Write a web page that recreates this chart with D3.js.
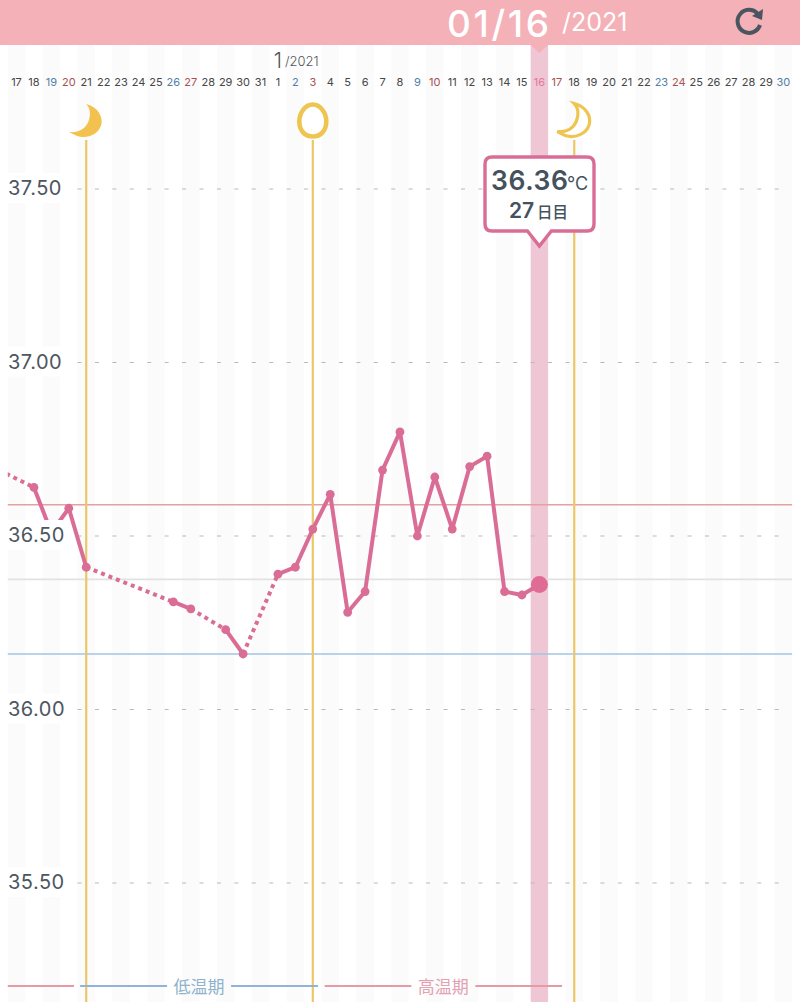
<!DOCTYPE html>
<html><head><meta charset="utf-8">
<script src="https://cdnjs.cloudflare.com/ajax/libs/d3/7.8.5/d3.min.js"></script>
<style>html,body{margin:0;padding:0;background:#fff}svg{display:block}</style></head>
<body><svg id="c" width="800" height="1002"></svg>
<script>
const dayLabels=[17,18,19,20,21,22,23,24,25,26,27,28,29,30,31,1,2,3,4,5,6,7,8,9,10,11,12,13,14,15,16,17,18,19,20,21,22,23,24,25,26,27,28,29,30];
const saturdays=[2,9,16,23,37,44];
const sundays=[3,10,17,24,31,38];
const dayIndex=[-1,1,2,3,4,9,10,12,13,15,16,17,18,19,20,21,22,23,24,25,26,27,28,29,30];
const temps=[36.69,36.64,36.51,36.58,36.41,36.31,36.29,36.23,36.16,36.39,36.41,36.52,36.62,36.28,36.34,36.69,36.80,36.50,36.67,36.52,36.70,36.73,36.34,36.33,36.36];
const yTicks=[37.5,37,36.5,36,35.5];
const refLines=[{v:36.59,c:"#e6a09f"},{v:36.375,c:"#e2e2e2"},{v:36.16,c:"#a2c4e0"}];
const moonDays=[4,17,32];
const selectedDay=30;
const phases=[{a:-0.5,b:3.3,c:"#e59aa6"},{a:3.65,b:17.3,c:"#8fb3da",t:"低温期",tc:"#8fb3cc"},{a:17.68,b:31.3,c:"#e59aa6",t:"高温期",tc:"#e3a1b2"}];
const svg=d3.select("#c");
const x=d3.scaleLinear().domain([0,44]).range([16.5,783.4]);
const y=d3.scaleLinear().domain([35.5,37.5]).range([883,189]);
const step=x(1)-x(0);
const pink="#d96d95",yellow="#ebc76a",latin="Inter,'Noto Sans CJK JP',sans-serif";
const main=svg.append("g");
main.selectAll(".stripe").data(dayLabels.map((d,i)=>i).filter(i=>i%2==0)).join("rect")
 .attr("x",i=>x(i)-step/2).attr("width",step).attr("y",45).attr("height",957).attr("fill","#fbfbfb");
main.append("rect").attr("x",x(selectedDay)-step/2).attr("width",step).attr("y",45).attr("height",957).attr("fill","#efc6d4");
main.selectAll(".g").data(yTicks).join("line").attr("x1",x(0)-step/2).attr("x2",x(44)+step/2)
 .attr("y1",d=>y(d)).attr("y2",d=>y(d)).attr("stroke","#b9b9b9").attr("stroke-width",1).attr("stroke-dasharray",`4 ${step-4}`);
main.selectAll(".r").data(refLines).join("line").attr("x1",x(0)-step/2).attr("x2",x(44)+step/2)
 .attr("y1",d=>y(d.v)).attr("y2",d=>y(d.v)).attr("stroke",d=>d.c).attr("stroke-width",1.6);
main.selectAll(".m").data(moonDays).join("line").attr("x1",d=>x(d)).attr("x2",d=>x(d)).attr("y1",140).attr("y2",1002).attr("stroke",yellow).attr("stroke-width",2.2);
svg.append("defs").append("clipPath").attr("id","pc").append("rect").attr("x",x(0)-step/2).attr("y",45).attr("width",800).attr("height",957);
const seg=main.append("g").attr("clip-path","url(#pc)");
const pts=dayIndex.map((d,i)=>({d,v:temps[i]}));
for(let i=0;i<pts.length-1;i++){const a=pts[i],b=pts[i+1],gap=b.d-a.d>1;
 seg.append("line").attr("x1",x(a.d)).attr("y1",y(a.v)).attr("x2",x(b.d)).attr("y2",y(b.v)).attr("stroke",pink).attr("stroke-width",4)
  .attr("stroke-dasharray",gap?"4 4":null);}
seg.selectAll("circle").data(pts.slice(0,-1)).join("circle").attr("cx",d=>x(d.d)).attr("cy",d=>y(d.v)).attr("r",4.4).attr("fill",pink);
const last=pts[pts.length-1];
seg.append("circle").attr("cx",x(last.d)).attr("cy",y(last.v)).attr("r",8.5).attr("fill","#e06c95");
const yl=svg.append("g");
yl.selectAll("rect").data(yTicks).join("rect").attr("x",7.5).attr("y",d=>y(d)-16).attr("width",58).attr("height",30).attr("fill","#fff");
yl.selectAll("text").data(yTicks).join("text").attr("x",8).attr("y",d=>y(d)+6).text(d=>d.toFixed(2))
 .attr("font-family",latin).attr("font-size",20).attr("letter-spacing",0.5).attr("fill","#4b5560").attr("opacity",0.99);
svg.append("rect").attr("width",800).attr("height",45).attr("fill","#f4b1b8");
svg.append("path").attr("d",`M${x(selectedDay)-8.7},45H${x(selectedDay)+8.7}L${x(selectedDay)},53Z`).attr("fill","#f4b1b8");
svg.append("text").attr("x",447).attr("y",36.5).text("01/16").attr("font-family",latin).attr("font-size",37).attr("letter-spacing",2.6).attr("fill","#fff").attr("font-weight",500);
svg.append("text").attr("x",562).attr("y",30.5).text("/2021").attr("font-family",latin).attr("font-size",25).attr("fill","#fff").attr("font-weight",400);
svg.append("path").attr("d","M757.5,13.5A11.5,11.5 0 1 0 760,25").attr("fill","none").attr("stroke","#4a5560").attr("stroke-width",4);
svg.append("path").attr("d","M752,16L763,9L762,20Z").attr("fill","#4a5560");
svg.append("g").attr("opacity",0.99).selectAll("text").data(dayLabels).join("text").attr("x",(d,i)=>x(i)).attr("y",86).attr("text-anchor","middle").text(d=>d)
 .attr("font-family",latin).attr("font-size",11)
 .attr("fill",(d,i)=>i==selectedDay?"#e0789c":saturdays.includes(i)?"#4f7ea6":sundays.includes(i)?"#a9504f":"#444");
const monthLabel=svg.append("g").attr("opacity",0.99);
monthLabel.append("text").attr("x",x(15)).attr("y",68).text("1").attr("font-family",latin).attr("font-size",21).attr("font-weight",300).attr("fill","#555").attr("text-anchor","middle");
monthLabel.append("text").attr("x",285).attr("y",66).text("/2021").attr("font-family",latin).attr("font-size",13).attr("font-weight",300).attr("fill","#555");
const moonSolid="M0,-17C12,-14 17,-4 15,4C12,14 0,18 -9,15C-12,14 -15,12 -17,11C-8,12 -1,8 2,1C5,-6 4,-13 0,-17Z";
svg.append("path").attr("transform",`translate(${x(moonDays[0])},121)`).attr("d",moonSolid).attr("fill","#f2c14e");
svg.append("path").attr("transform",`translate(${x(moonDays[1])},120.5)`).attr("d","M0,-16C8,-16 13.5,-7 13.5,1C13.5,10 8,16 0,16C-8,16 -13.5,10 -13.5,1C-13.5,-7 -8,-16 0,-16Z").attr("fill","#fff").attr("stroke","#efc552").attr("stroke-width",4.6);
svg.append("path").attr("transform",`translate(${x(moonDays[2])},120.5)`).attr("d",moonSolid).attr("fill","#fff").attr("stroke","#efc552").attr("stroke-width",3.2);
const cx=x(selectedDay);
svg.append("path").attr("d",`M492,157H587Q594,157 594,164V224Q594,231 587,231H${cx+12}L${cx},246L${cx-12},231H492Q485,231 485,224V164Q485,157 492,157Z`).attr("fill","#fff").attr("stroke","#d96d95").attr("stroke-width",3.4);
svg.append("text").attr("x",491).attr("y",190).text(last.v.toFixed(2)).attr("font-family",latin).attr("font-size",26.5).attr("letter-spacing",0.6).attr("font-weight",600).attr("fill","#45525e");
svg.append("text").attr("x",567).attr("y",190).text("°C").attr("font-family",latin).attr("font-size",18).attr("font-weight",400).attr("fill","#45525e");
svg.append("text").attr("x",509).attr("y",218).text(`${selectedDay-3}`).attr("font-family",latin).attr("font-size",21).attr("font-weight",600).attr("fill","#45525e");
svg.append("text").attr("x",537).attr("y",218).text("日目").attr("font-family","'Noto Sans CJK JP'").attr("font-size",15.5).attr("font-weight",500).attr("fill","#45525e");
const py=986;
phases.forEach(p=>{const x1=x(p.a),x2=x(p.b),m=(x1+x2)/2;
 if(p.t){svg.append("line").attr("x1",x1).attr("x2",m-32).attr("y1",py).attr("y2",py).attr("stroke",p.c).attr("stroke-width",2);
  svg.append("line").attr("x1",m+32).attr("x2",x2).attr("y1",py).attr("y2",py).attr("stroke",p.c).attr("stroke-width",2);
  svg.append("text").attr("x",m).attr("y",py+7).attr("text-anchor","middle").text(p.t).attr("font-family","'Noto Sans CJK JP'").attr("font-size",17).attr("fill",p.tc);}
 else svg.append("line").attr("x1",x1).attr("x2",x2).attr("y1",py).attr("y2",py).attr("stroke",p.c).attr("stroke-width",2);});
</script></body></html>
